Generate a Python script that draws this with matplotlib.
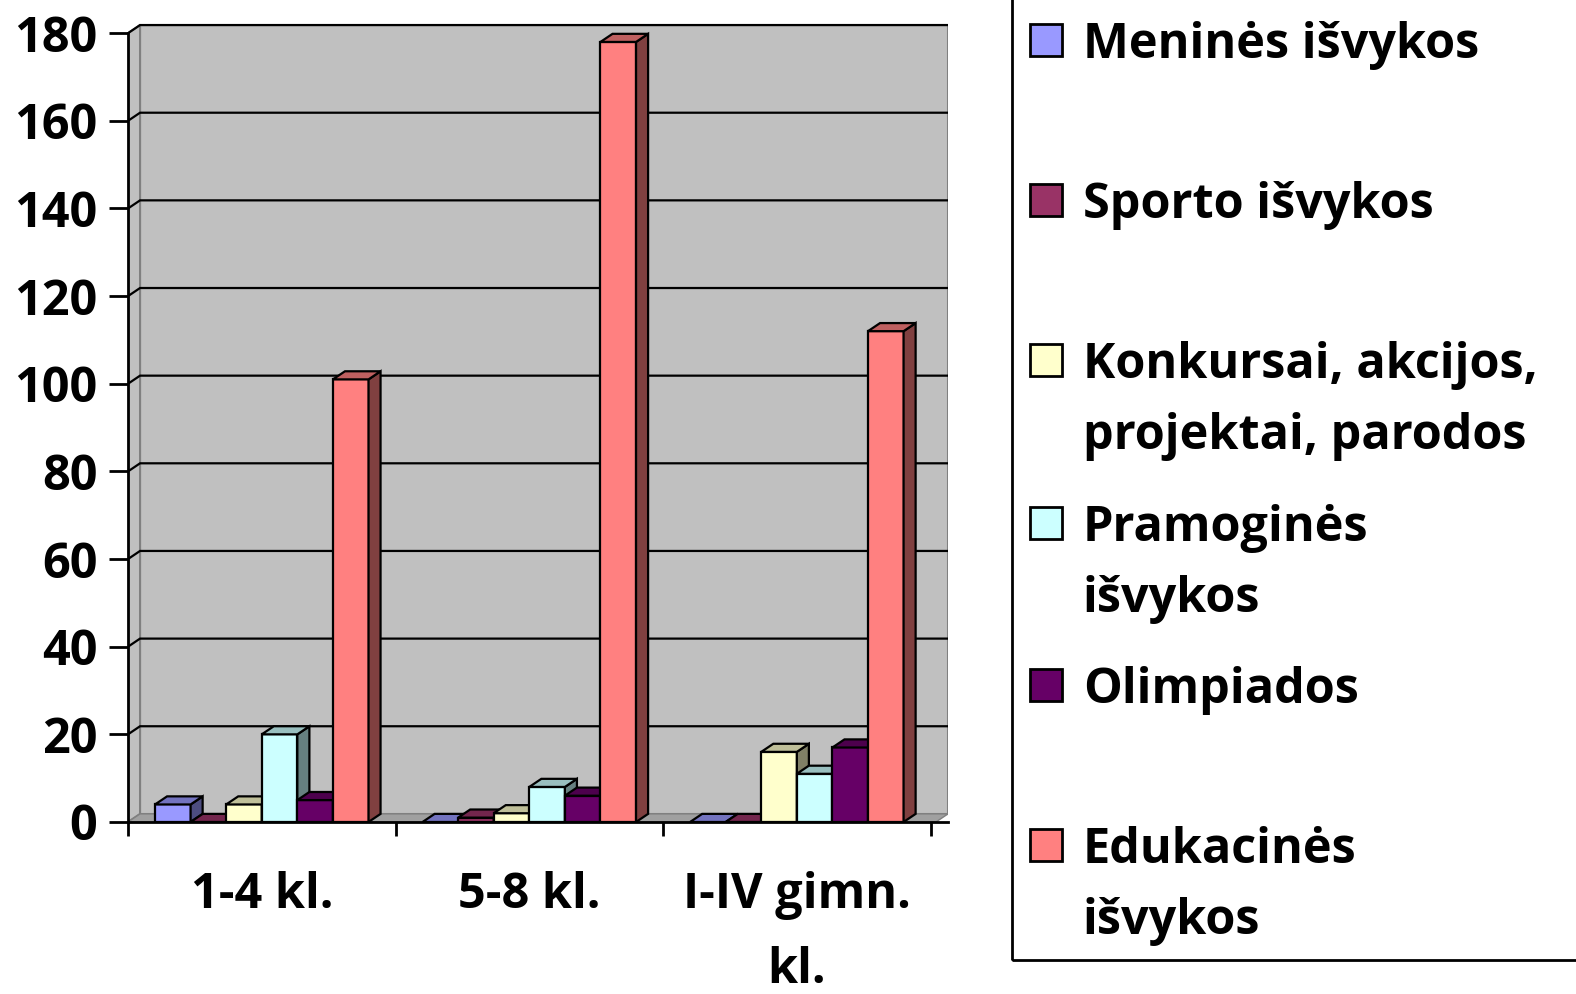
import matplotlib

matplotlib.use("Agg")
import matplotlib.pyplot as plt
from matplotlib.patches import Polygon, Rectangle
from matplotlib.colors import to_rgb

plt.rcParams["font.family"] = ["Open Sans", "DejaVu Sans"]
plt.rcParams["font.weight"] = "bold"

groups = ["1-4 kl.", "5-8 kl.", "I-IV gimn.\nkl."]
series = ["Meninės išvykos", "Sporto išvykos", "Konkursai, akcijos,\nprojektai, parodos",
          "Pramoginės\nišvykos", "Olimpiados", "Edukacinės\nišvykos"]
colors = ["#9999FF", "#993366", "#FFFFCC", "#CCFFFF", "#660066", "#FF8080"]
meni = [4, 0, 0]
sport = [0, 1, 0]
konk = [4, 2, 16]
pramog = [20, 8, 11]
olimp = [5, 6, 17]
eduk = [101, 178, 112]
values = [meni, sport, konk, pramog, olimp, eduk]
yticks = [0, 20, 40, 60, 80, 100, 120, 140, 160, 180]

FS = 35
W, H = 1576, 994
fig = plt.figure(figsize=(W / 100, H / 100), dpi=100)
ax = fig.add_axes([128 / W, (H - 822) / H, (948 - 128) / W, (822 - 22) / H])

# depth offset of the 3D look, in data units
dx, dy = 0.045, 1.85
x0, x1 = -0.5, 2.565
ytop = 180 + dy
ax.set_xlim(x0, x1)
ax.set_ylim(0, ytop + 0.7)


def shade(c, f):
    r, g, b = to_rgb(c)
    return (r * f, g * f, b * f)


# walls and floor
ax.add_patch(Rectangle((x0 + dx, dy), x1 - x0 - dx, 180, facecolor="#C0C0C0",
                       edgecolor="#808080", lw=1.5, zorder=0))
ax.add_patch(Polygon([(x0, 0), (x0 + dx, dy), (x0 + dx, ytop), (x0, 180)],
                     facecolor="#C0C0C0", edgecolor="#808080", lw=1.5, zorder=0))
ax.add_patch(Polygon([(x0, 0), (x1 - dx, 0), (x1, dy), (x0 + dx, dy)],
                     facecolor="#A0A0A0", edgecolor="#808080", lw=1.0, zorder=0))
for v in yticks[1:]:
    ax.plot([x0, x0 + dx, x1], [v, v + dy, v + dy], color="black", lw=1.6, zorder=1,
            solid_joinstyle="miter")

bw = 0.133
for i, (vals, c) in enumerate(zip(values, colors)):
    for g, h in enumerate(vals):
        xc = g + (i - 2.5) * bw
        l, r = xc - bw / 2, xc + bw / 2
        z = 3 + g * 10 + i
        ax.bar(xc, h, width=bw, color=c, edgecolor="black", lw=1.6, zorder=z)
        ax.add_patch(Polygon([(r, 0), (r + dx, dy), (r + dx, h + dy), (r, h)],
                             facecolor=shade(c, 0.5), edgecolor="black", lw=1.6, zorder=z))
        ax.add_patch(Polygon([(l, h), (l + dx, h + dy), (r + dx, h + dy), (r, h)],
                             facecolor=shade(c, 0.75), edgecolor="black", lw=1.6, zorder=z))

for s in ["top", "right"]:
    ax.spines[s].set_visible(False)
ax.spines["left"].set_bounds(0, 180)
for s in ["left", "bottom"]:
    ax.spines[s].set_linewidth(2)
    ax.spines[s].set_zorder(50)

ax.set_yticks(yticks)
ax.set_yticklabels([str(v) for v in yticks], fontsize=FS, fontweight="bold")
ax.tick_params(axis="y", length=14, width=2, pad=8)
ax.set_xticks(range(3))
ax.set_xticklabels(groups, fontsize=FS, fontweight="bold", linespacing=1.72)
ax.tick_params(axis="x", which="major", length=0, pad=35)
ax.set_xticks([-0.5, 0.5, 1.5, 2.5], minor=True)
ax.tick_params(axis="x", which="minor", length=10, width=2)

# legend box drawn by hand (markers aligned to the first text line)
fig.patches.append(Rectangle((1012 / W, (H - 960) / H), 0.5, 1.1, transform=fig.transFigure,
                             facecolor="none", edgecolor="black", lw=2))
label_y = [40, 200, 360, 523, 685, 845]
for lab, c, y in zip(series, colors, label_y):
    fig.patches.append(Rectangle((1030 / W, (H - y - 16) / H), 32 / W, 32 / H,
                                 transform=fig.transFigure, facecolor=c,
                                 edgecolor="black", lw=2))
    fig.text(1083 / W, (H - y + 19) / H, lab, fontsize=FS, fontweight="bold",
             va="top", ha="left", linespacing=1.6, transform=fig.transFigure)

fig.savefig("out.png", dpi=100)
